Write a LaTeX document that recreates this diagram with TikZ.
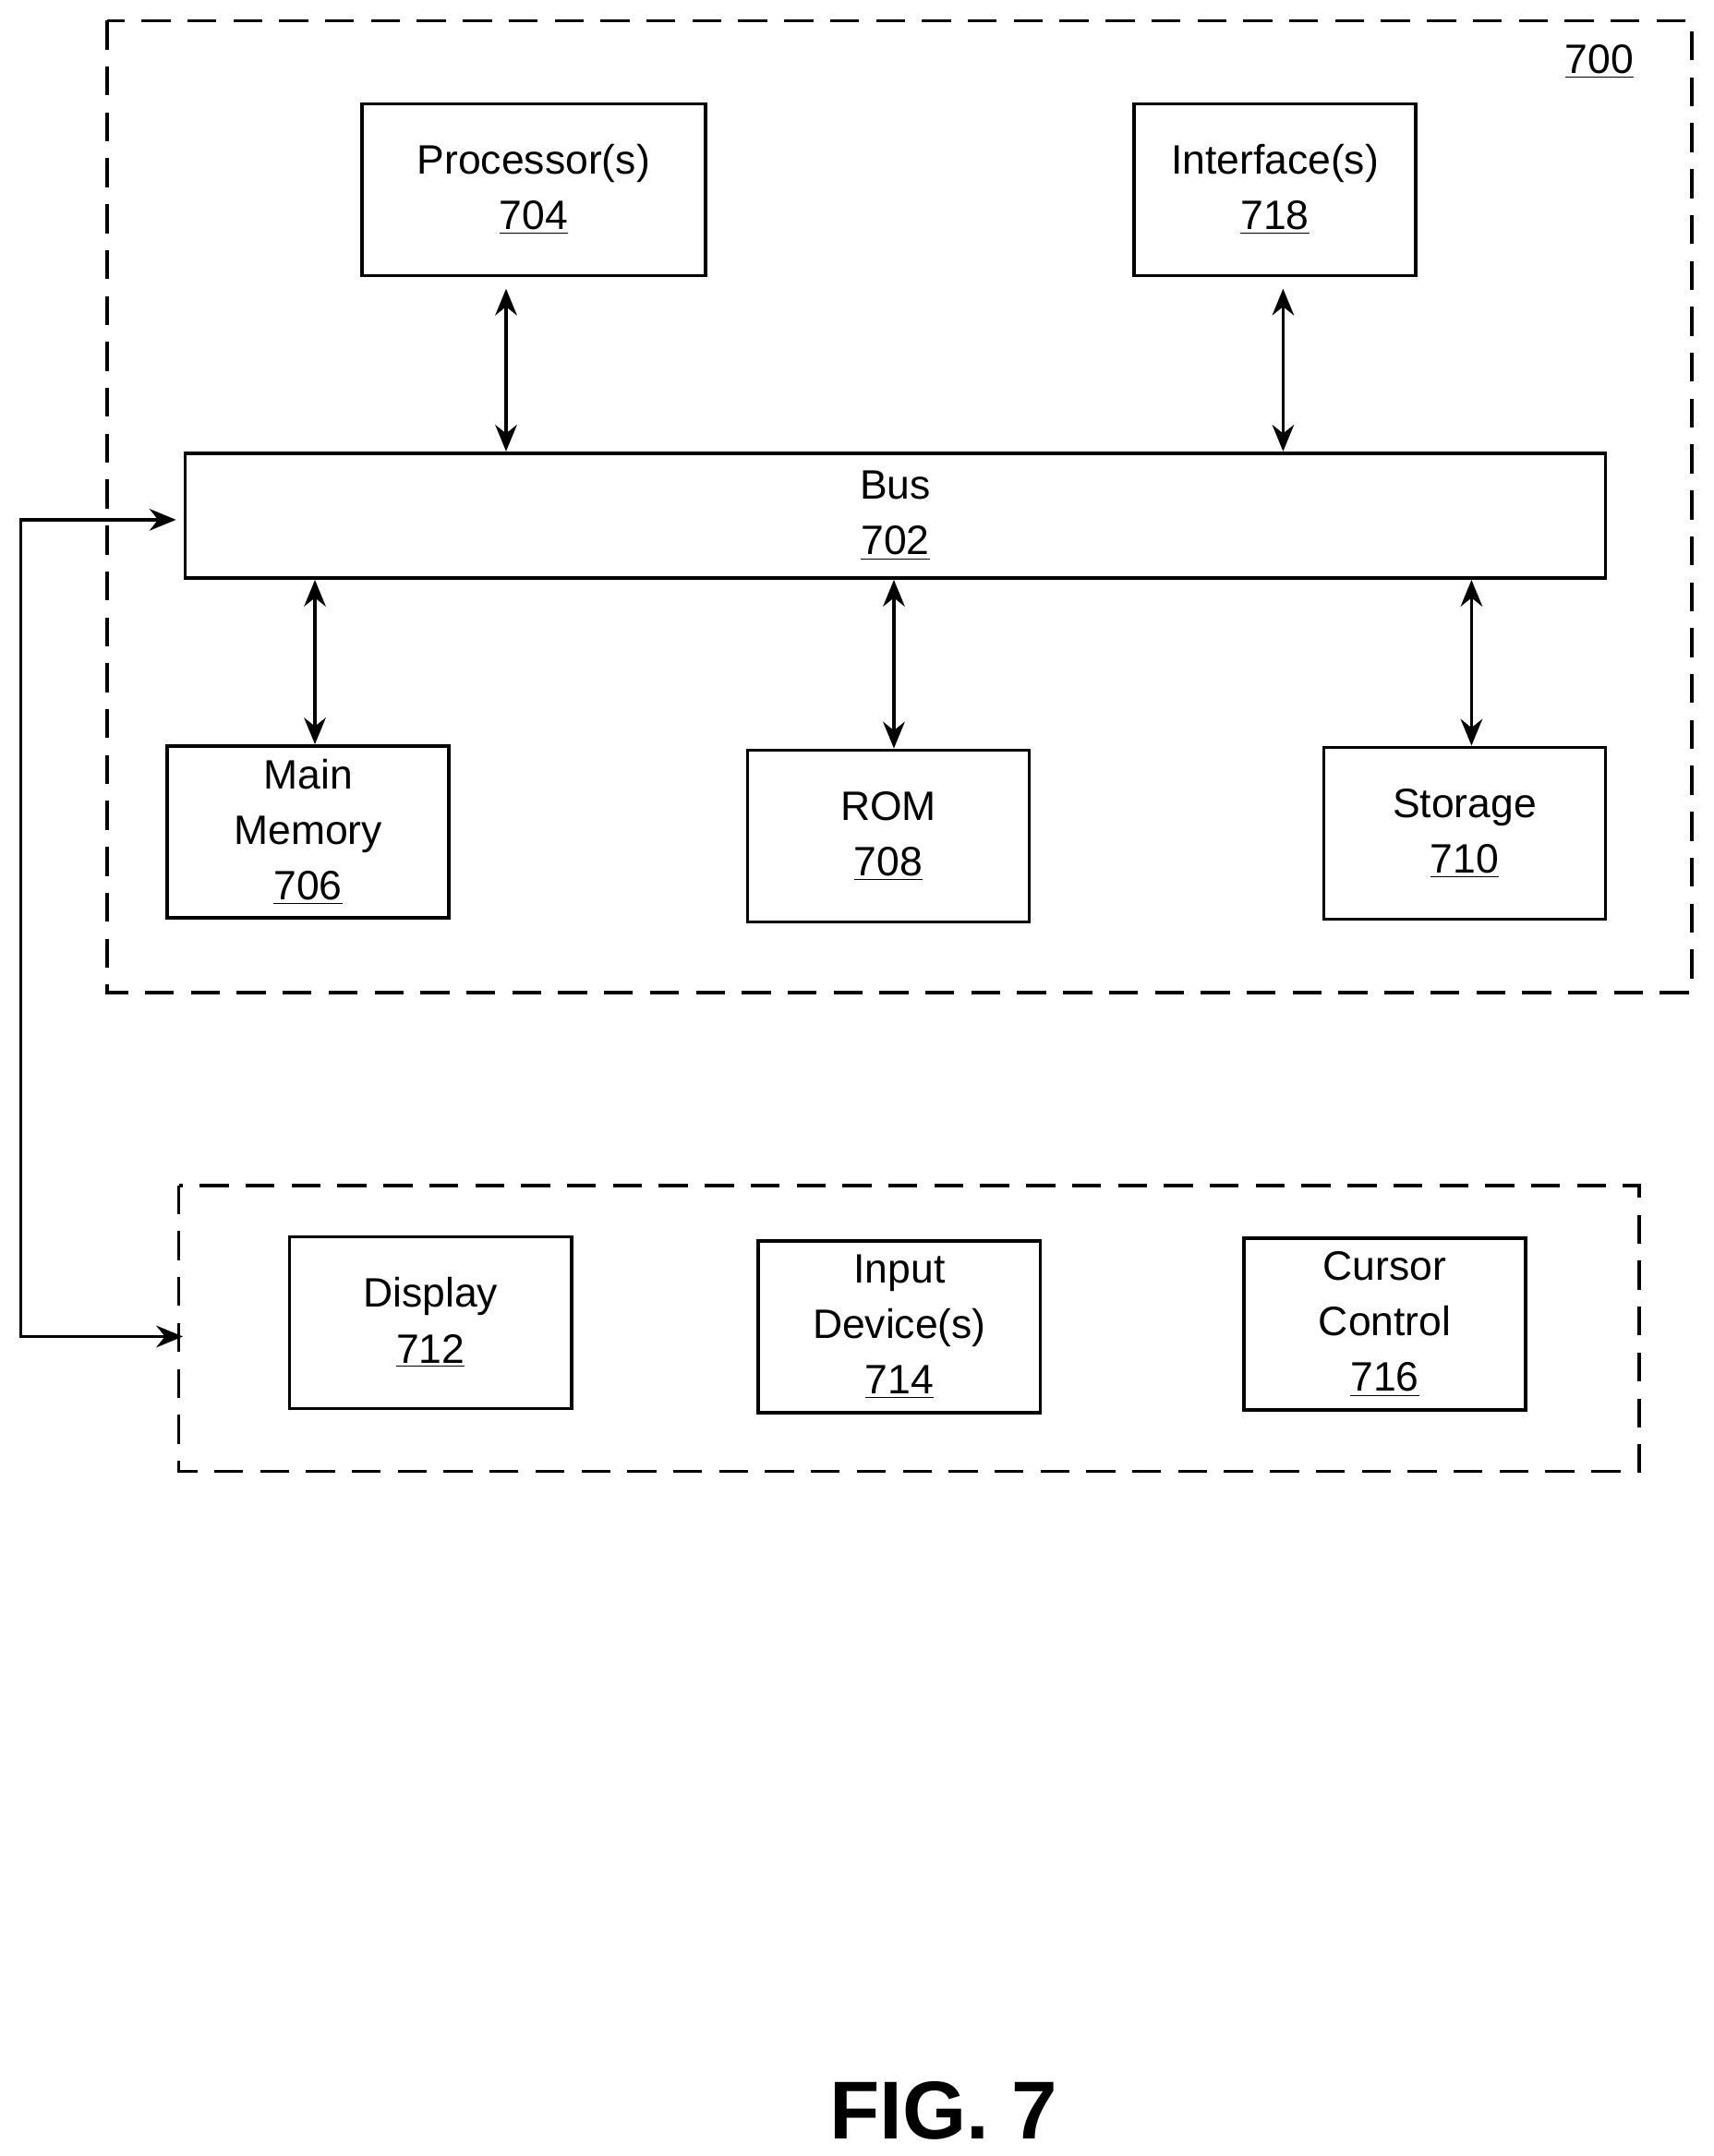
\documentclass[tikz,border=0pt]{standalone}
\usepackage{fontspec}
\setmainfont{Liberation Sans}
\usetikzlibrary{positioning, calc, arrows.meta}

\begin{document}
\begin{tikzpicture}[x=0.02cm, y=-0.02cm,
    box/.style={draw, line width=1.4pt, align=center, font=\fontsize{17}{23}\selectfont,
      minimum width=4.1cm, minimum height=2.5cm, inner sep=0pt},
    group/.style={draw, dashed, dash pattern=on 12pt off 7pt, line width=1.4pt},
    link/.style={{Stealth[length=11pt,width=9pt]}-{Stealth[length=11pt,width=9pt]}, line width=1.4pt},
    num/.style={font=\fontsize{17}{23}\selectfont}]
  \useasboundingbox (0,0) rectangle (1246,1568);

  % computer system
  \draw[group] (78,15) rectangle (1230,722);
  \node[num] (lbl) at (1163,45) {\underline{700}};

  \node[box, minimum width=5cm] (proc) at (388,138) {Processor(s)\\\underline{704}};
  \node[box] (iface) at (927,138) {Interface(s)\\\underline{718}};
  \node[box, minimum width=20.66cm, minimum height=1.82cm] (bus) at (651,375) {Bus\\\underline{702}};
  \node[box] (mem) at (224,605) {Main\\Memory\\\underline{706}};
  \node[box] (rom) at (646,608) {ROM\\\underline{708}};
  \node[box] (stor) at (1065,606) {Storage\\\underline{710}};

  \draw[link] (368,210) -- (bus.north -| 368,0);
  \draw[link] (933,210) -- (bus.north -| 933,0);
  \draw[link] (bus.south -| 229,0) -- (mem.north -| 229,0);
  \draw[link] (bus.south -| 650,0) -- (rom.north -| 650,0);
  \draw[link] (bus.south -| 1070,0) -- (stor.north -| 1070,0);

  % peripherals
  \draw[group] (130,862) rectangle (1192,1070);
  \node[box] (disp) at (313,962) {Display\\\underline{712}};
  \node[box] (input) at (654,965) {Input\\Device(s)\\\underline{714}};
  \node[box] (cursor) at (1007,963) {Cursor\\Control\\\underline{716}};

  \coordinate (busin) at (128,378);
  \coordinate (devin) at (133,972);
  \draw[link] (busin) -- (15,378) -- (15,972) -- (devin);

  \node[font=\fontsize{34}{40}\selectfont\bfseries] (fig) at (686,1535) {FIG. 7};
\end{tikzpicture}
\end{document}
